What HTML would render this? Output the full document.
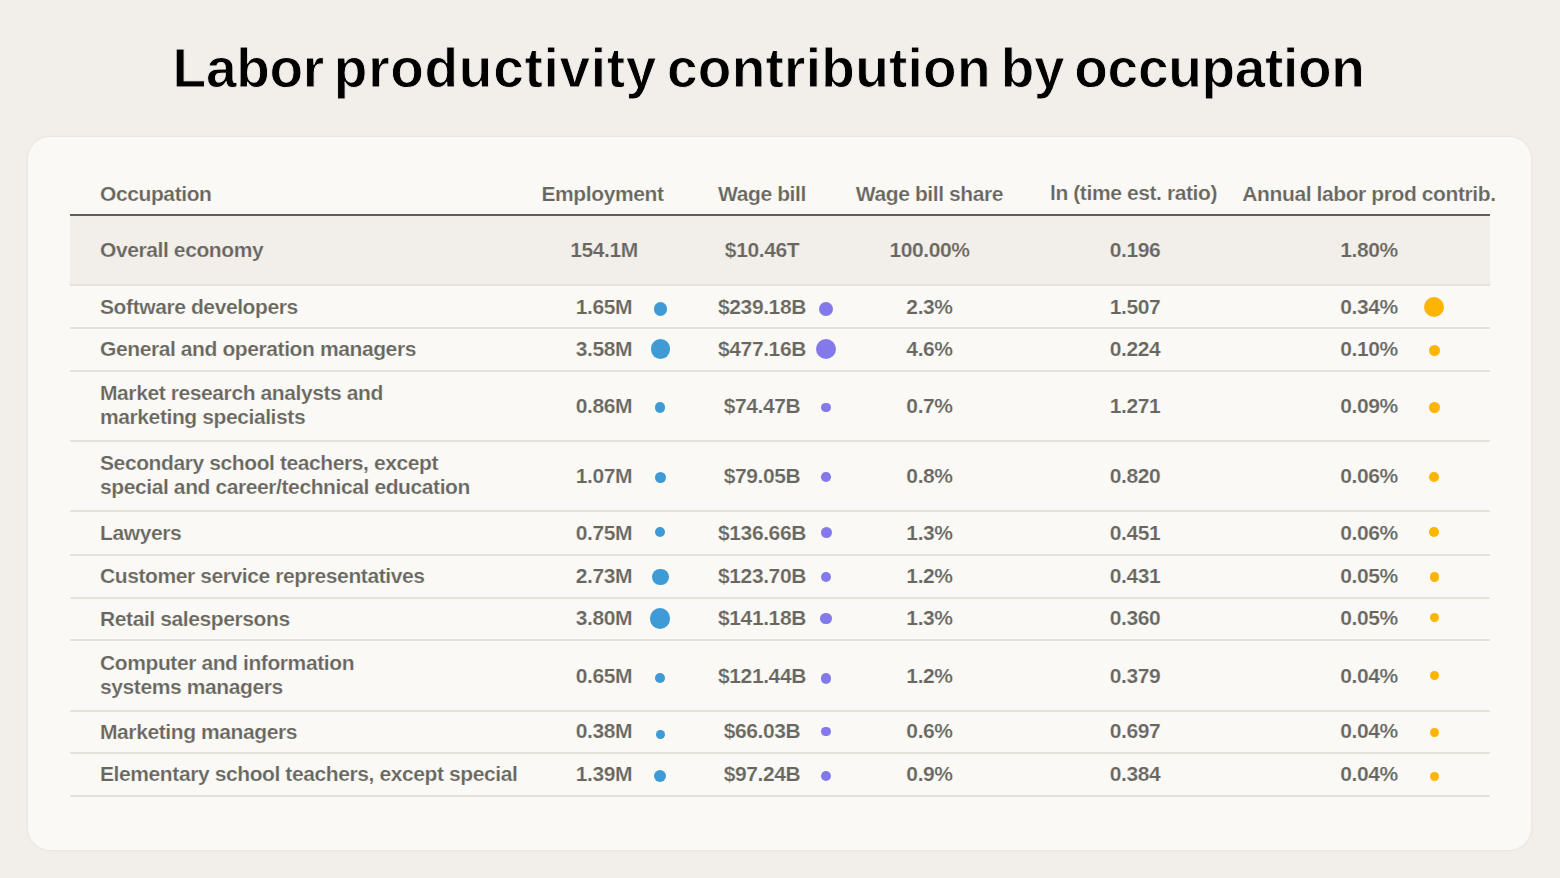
<!DOCTYPE html>
<html><head><meta charset="utf-8"><title>Labor productivity contribution by occupation</title>
<style>
html,body{margin:0;padding:0}
body{width:1560px;height:878px;overflow:hidden;background:#F2EEE9;position:relative;font-family:"Liberation Sans",Arial,sans-serif;-webkit-text-stroke:0.2px #FAF9F5}
h1{position:absolute;left:172.6px;width:1300px;top:38px;margin:0;text-align:left;word-spacing:-5px;white-space:nowrap;font-weight:700;font-size:55px;line-height:60px;letter-spacing:-0.3px;color:#000;-webkit-text-stroke:0.9px #F2EEE9}
.card{position:absolute;left:28.3px;top:136.6px;width:1503.1px;height:713.9px;background:#FAF9F5;border-radius:22px;box-shadow:0 0 3px rgba(90,80,60,0.10)}
.hdr{position:absolute;top:181.8px;height:24px;line-height:24px;font-weight:700;font-size:21px;letter-spacing:-0.4px;color:#67665F;white-space:nowrap}
.hline{position:absolute;left:70px;width:1420px;top:213.5px;height:2.2px;background:#5F5E58}
.row{position:absolute;left:70px;width:1420px}
.row.ov{background:#F2EEE9}
.sep{position:absolute;left:70px;width:1420px;height:2px;background:#E4E2D9}
.occ{position:absolute;left:100px;transform:translateY(-50%);font-weight:700;font-size:21px;letter-spacing:-0.4px;line-height:24px;color:#67665F;white-space:nowrap}
.num{position:absolute;width:200px;text-align:center;font-weight:700;font-size:21px;letter-spacing:-0.4px;line-height:24px;color:#67665F;white-space:nowrap}
.dot{position:absolute;border-radius:50%}
</style></head><body>
<h1>Labor <span style="letter-spacing:0.7px">productivity</span> <span style="letter-spacing:0.25px">contribution</span> by occupation</h1>
<div class="card"></div>
<div class="hdr" style="left:100px">Occupation</div>
<div class="hdr" style="left:502.5px;width:200px;text-align:center">Employment</div>
<div class="hdr" style="left:662px;width:200px;text-align:center">Wage bill</div>
<div class="hdr" style="left:829.5px;width:200px;text-align:center">Wage bill share</div>
<div class="hdr" style="left:983.5px;top:180.8px;width:300px;text-align:center">ln (time est. ratio)</div>
<div class="hdr" style="left:1219px;width:300px;text-align:center">Annual labor prod contrib.</div>
<div class="hline"></div>
<div class="row ov" style="top:216px;height:68px"></div>
<div class="sep" style="top:284px"></div>
<div class="occ" style="top:250.0px;-webkit-text-stroke-color:#F2EEE9">Overall economy</div>
<div class="num" style="left:504px;top:238.20px;-webkit-text-stroke-color:#F2EEE9">154.1M</div>
<div class="num" style="left:662px;top:238.20px;-webkit-text-stroke-color:#F2EEE9">$10.46T</div>
<div class="num" style="left:829.5px;top:238.20px;-webkit-text-stroke-color:#F2EEE9">100.00%</div>
<div class="num" style="left:1035px;top:238.20px;-webkit-text-stroke-color:#F2EEE9">0.196</div>
<div class="num" style="left:1269px;top:238.20px;-webkit-text-stroke-color:#F2EEE9">1.80%</div>
<div class="row" style="top:286px;height:41px"></div>
<div class="sep" style="top:327px"></div>
<div class="occ" style="top:306.5px">Software developers</div>
<div class="num" style="left:504px;top:294.50px">1.65M</div>
<div class="num" style="left:662px;top:294.50px">$239.18B</div>
<div class="num" style="left:829.5px;top:294.50px">2.3%</div>
<div class="num" style="left:1035px;top:294.50px">1.507</div>
<div class="num" style="left:1269px;top:294.50px">0.34%</div>
<div class="dot" style="left:653.78px;top:302.48px;width:13.04px;height:13.04px;background:#3E9BD6"></div>
<div class="dot" style="left:819.15px;top:302.25px;width:13.89px;height:13.89px;background:#8479EA"></div>
<div class="dot" style="left:1424.17px;top:297.18px;width:20.25px;height:20.25px;background:#FDB403"></div>
<div class="row" style="top:329px;height:40.5px"></div>
<div class="sep" style="top:369.5px"></div>
<div class="occ" style="top:349.25px">General and operation managers</div>
<div class="num" style="left:504px;top:336.90px">3.58M</div>
<div class="num" style="left:662px;top:336.90px">$477.16B</div>
<div class="num" style="left:829.5px;top:336.90px">4.6%</div>
<div class="num" style="left:1035px;top:336.90px">0.224</div>
<div class="num" style="left:1269px;top:336.90px">0.10%</div>
<div class="dot" style="left:650.54px;top:339.04px;width:19.51px;height:19.51px;background:#3E9BD6"></div>
<div class="dot" style="left:815.98px;top:338.88px;width:20.25px;height:20.25px;background:#8479EA"></div>
<div class="dot" style="left:1428.67px;top:345.18px;width:11.25px;height:11.25px;background:#FDB403"></div>
<div class="row" style="top:371.5px;height:68.5px"></div>
<div class="sep" style="top:440px"></div>
<div class="occ" style="top:405.05px">Market research analysts and<br>marketing specialists</div>
<div class="num" style="left:504px;top:393.60px">0.86M</div>
<div class="num" style="left:662px;top:393.60px">$74.47B</div>
<div class="num" style="left:829.5px;top:393.60px">0.7%</div>
<div class="num" style="left:1035px;top:393.60px">1.271</div>
<div class="num" style="left:1269px;top:393.60px">0.09%</div>
<div class="dot" style="left:655.11px;top:402.41px;width:10.39px;height:10.39px;background:#3E9BD6"></div>
<div class="dot" style="left:821.36px;top:402.76px;width:9.49px;height:9.49px;background:#8479EA"></div>
<div class="dot" style="left:1428.86px;top:401.96px;width:10.88px;height:10.88px;background:#FDB403"></div>
<div class="row" style="top:442px;height:68px"></div>
<div class="sep" style="top:510px"></div>
<div class="occ" style="top:475.3px">Secondary school teachers, except<br>special and career/technical education</div>
<div class="num" style="left:504px;top:463.50px">1.07M</div>
<div class="num" style="left:662px;top:463.50px">$79.05B</div>
<div class="num" style="left:829.5px;top:463.50px">0.8%</div>
<div class="num" style="left:1035px;top:463.50px">0.820</div>
<div class="num" style="left:1269px;top:463.50px">0.06%</div>
<div class="dot" style="left:654.75px;top:471.55px;width:11.09px;height:11.09px;background:#3E9BD6"></div>
<div class="dot" style="left:821.29px;top:472.19px;width:9.61px;height:9.61px;background:#8479EA"></div>
<div class="dot" style="left:1429.42px;top:472.02px;width:9.75px;height:9.75px;background:#FDB403"></div>
<div class="row" style="top:512px;height:42px"></div>
<div class="sep" style="top:554px"></div>
<div class="occ" style="top:533.0px">Lawyers</div>
<div class="num" style="left:504px;top:520.50px">0.75M</div>
<div class="num" style="left:662px;top:520.50px">$136.66B</div>
<div class="num" style="left:829.5px;top:520.50px">1.3%</div>
<div class="num" style="left:1035px;top:520.50px">0.451</div>
<div class="num" style="left:1269px;top:520.50px">0.06%</div>
<div class="dot" style="left:655.29px;top:526.79px;width:10.02px;height:10.02px;background:#3E9BD6"></div>
<div class="dot" style="left:820.52px;top:527.32px;width:11.15px;height:11.15px;background:#8479EA"></div>
<div class="dot" style="left:1429.42px;top:527.33px;width:9.75px;height:9.75px;background:#FDB403"></div>
<div class="row" style="top:556px;height:40.5px"></div>
<div class="sep" style="top:596.5px"></div>
<div class="occ" style="top:576.25px">Customer service representatives</div>
<div class="num" style="left:504px;top:563.70px">2.73M</div>
<div class="num" style="left:662px;top:563.70px">$123.70B</div>
<div class="num" style="left:829.5px;top:563.70px">1.2%</div>
<div class="num" style="left:1035px;top:563.70px">0.431</div>
<div class="num" style="left:1269px;top:563.70px">0.05%</div>
<div class="dot" style="left:651.97px;top:568.67px;width:16.66px;height:16.66px;background:#3E9BD6"></div>
<div class="dot" style="left:820.70px;top:571.50px;width:10.81px;height:10.81px;background:#8479EA"></div>
<div class="dot" style="left:1429.61px;top:572.21px;width:9.38px;height:9.38px;background:#FDB403"></div>
<div class="row" style="top:598.5px;height:40.5px"></div>
<div class="sep" style="top:639px"></div>
<div class="occ" style="top:618.75px">Retail salespersons</div>
<div class="num" style="left:504px;top:606.30px">3.80M</div>
<div class="num" style="left:662px;top:606.30px">$141.18B</div>
<div class="num" style="left:829.5px;top:606.30px">1.3%</div>
<div class="num" style="left:1035px;top:606.30px">0.360</div>
<div class="num" style="left:1269px;top:606.30px">0.05%</div>
<div class="dot" style="left:650.17px;top:608.27px;width:20.25px;height:20.25px;background:#3E9BD6"></div>
<div class="dot" style="left:820.46px;top:612.76px;width:11.27px;height:11.27px;background:#8479EA"></div>
<div class="dot" style="left:1429.61px;top:612.81px;width:9.38px;height:9.38px;background:#FDB403"></div>
<div class="row" style="top:641px;height:68.5px"></div>
<div class="sep" style="top:709.5px"></div>
<div class="occ" style="top:674.55px">Computer and information<br>systems managers</div>
<div class="num" style="left:504px;top:664.00px">0.65M</div>
<div class="num" style="left:662px;top:664.00px">$121.44B</div>
<div class="num" style="left:829.5px;top:664.00px">1.2%</div>
<div class="num" style="left:1035px;top:664.00px">0.379</div>
<div class="num" style="left:1269px;top:664.00px">0.04%</div>
<div class="dot" style="left:655.46px;top:672.86px;width:9.68px;height:9.68px;background:#3E9BD6"></div>
<div class="dot" style="left:820.73px;top:673.03px;width:10.74px;height:10.74px;background:#8479EA"></div>
<div class="dot" style="left:1429.80px;top:670.70px;width:9.00px;height:9.00px;background:#FDB403"></div>
<div class="row" style="top:711.5px;height:40.5px"></div>
<div class="sep" style="top:752px"></div>
<div class="occ" style="top:731.75px">Marketing managers</div>
<div class="num" style="left:504px;top:719.20px">0.38M</div>
<div class="num" style="left:662px;top:719.20px">$66.03B</div>
<div class="num" style="left:829.5px;top:719.20px">0.6%</div>
<div class="num" style="left:1035px;top:719.20px">0.697</div>
<div class="num" style="left:1269px;top:719.20px">0.04%</div>
<div class="dot" style="left:655.91px;top:729.81px;width:8.78px;height:8.78px;background:#3E9BD6"></div>
<div class="dot" style="left:821.47px;top:727.07px;width:9.26px;height:9.26px;background:#8479EA"></div>
<div class="dot" style="left:1429.80px;top:727.50px;width:9.00px;height:9.00px;background:#FDB403"></div>
<div class="row" style="top:754px;height:40.5px"></div>
<div class="sep" style="top:794.5px"></div>
<div class="occ" style="top:774.25px">Elementary school teachers, except special</div>
<div class="num" style="left:504px;top:762.00px">1.39M</div>
<div class="num" style="left:662px;top:762.00px">$97.24B</div>
<div class="num" style="left:829.5px;top:762.00px">0.9%</div>
<div class="num" style="left:1035px;top:762.00px">0.384</div>
<div class="num" style="left:1269px;top:762.00px">0.04%</div>
<div class="dot" style="left:654.22px;top:769.92px;width:12.16px;height:12.16px;background:#3E9BD6"></div>
<div class="dot" style="left:821.05px;top:770.95px;width:10.10px;height:10.10px;background:#8479EA"></div>
<div class="dot" style="left:1429.80px;top:771.70px;width:9.00px;height:9.00px;background:#FDB403"></div>
</body></html>
